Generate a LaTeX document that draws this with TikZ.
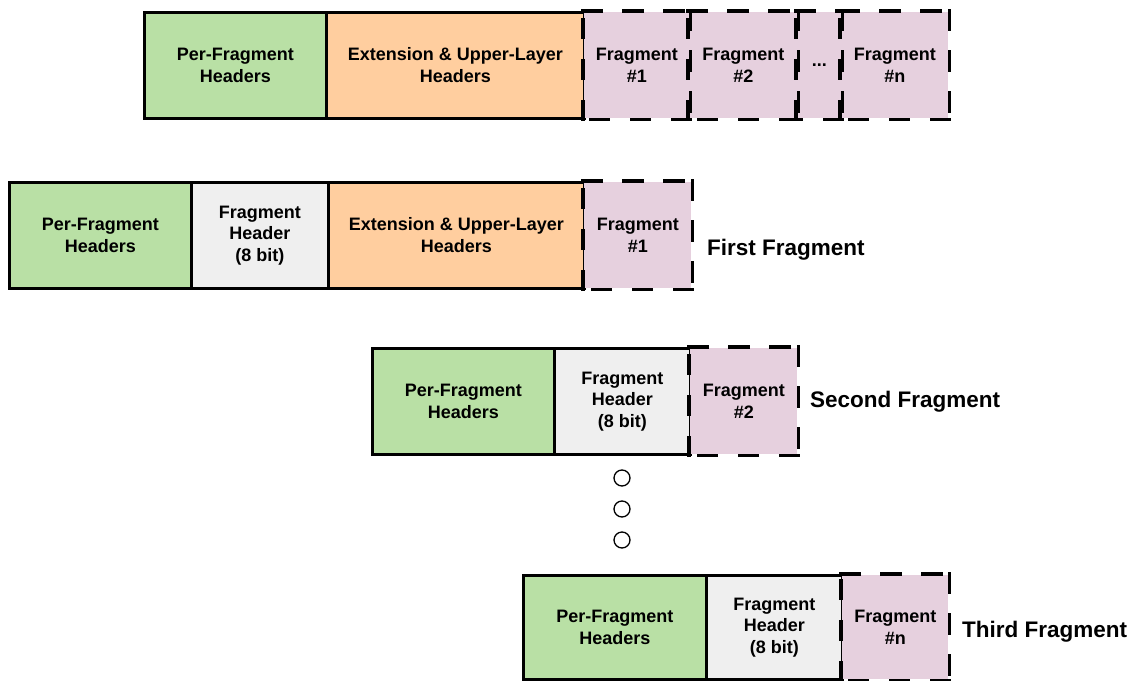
\documentclass[tikz,border=0pt]{standalone}
\usepackage{fontspec}
\setmainfont{Liberation Sans}
\begin{document}
\begin{tikzpicture}[x=1pt,y=-1pt,
  seg/.style={draw=black, line width=2.6pt, inner sep=0pt, anchor=north west,
    align=center, font=\fontsize{18}{21.6}\selectfont\bfseries},
  pfh/.style={seg, fill=pfgreen},
  ext/.style={seg, fill=extorange},
  fh/.style={seg, fill=fhgray},
  frag/.style={seg, fill=fragpink, draw=none},
  dashedge/.style={draw=black, line width=3.2pt, line cap=rect, dash pattern=on 18pt off 23pt},
  lbl/.style={anchor=west, inner sep=0pt, font=\fontsize{22.5}{26}\selectfont\bfseries},
  dot/.style={circle, draw=black, line width=1.3pt, fill=white, minimum size=16pt, inner sep=0pt}
]
\definecolor{pfgreen}{HTML}{B9E0A5}
\definecolor{extorange}{HTML}{FFCE9F}
\definecolor{fhgray}{HTML}{EFEFEF}
\definecolor{fragpink}{HTML}{E6D0DE}
\useasboundingbox (0,0) rectangle (1137,680);

% original packet
\node[pfh, minimum width=182pt, minimum height=106pt] (o1) at (143,11) {Per-Fragment\\Headers};
\node[ext, minimum width=258pt, minimum height=106pt] (o2) at (325,11) {Extension \& Upper-Layer\\Headers};
\node[frag, minimum width=105pt, minimum height=106pt] (o3) at (583,11) {Fragment\\\#1};
\node[frag, minimum width=108pt, minimum height=106pt] (o4) at (688,11) {Fragment\\\#2};
\node[frag, minimum width=44pt, minimum height=106pt] (o5) at (796,11) {...};
\node[frag, minimum width=107pt, minimum height=106pt] (o6) at (840,11) {Fragment\\\#n};

% first fragment
\node[pfh, minimum width=182pt, minimum height=106pt] (a1) at (8,181) {Per-Fragment\\Headers};
\node[fh, minimum width=137pt, minimum height=106pt] (a2) at (190,181) {Fragment\\Header\\(8 bit)};
\node[ext, minimum width=256pt, minimum height=106pt] (a3) at (327,181) {Extension \& Upper-Layer\\Headers};
\node[frag, minimum width=107pt, minimum height=106pt] (a4) at (583,181) {Fragment\\\#1};
\node[lbl] (la) at (707,250) {First Fragment};

% second fragment
\node[pfh, minimum width=182pt, minimum height=106pt] (b1) at (371,347) {Per-Fragment\\Headers};
\node[fh, minimum width=136pt, minimum height=106pt] (b2) at (553,347) {Fragment\\Header\\(8 bit)};
\node[frag, minimum width=107pt, minimum height=106pt] (b3) at (689,347) {Fragment\\\#2};
\node[lbl] (lb) at (810,402) {Second Fragment};

% vertical ellipsis
\node[dot] (d1) at (622,478) {};
\node[dot] (d2) at (622,509) {};
\node[dot] (d3) at (622,540) {};

% last fragment
\node[pfh, minimum width=183pt, minimum height=104pt] (c1) at (522,574) {Per-Fragment\\Headers};
\node[fh, minimum width=136pt, minimum height=104pt] (c2) at (705,574) {Fragment\\Header\\(8 bit)};
\node[frag, minimum width=106pt, minimum height=104pt] (c3) at (841,574) {Fragment\\\#n};
\node[lbl] (lc) at (962,632) {Third Fragment};

% dashed outlines of the fragment payloads, each side starting with a dash at its corner
\foreach \n in {o3,o4,o5,o6,a4,b3,c3} {
  \draw[dashedge] (\n.north west) -- (\n.north east);
  \draw[dashedge] (\n.north east) -- (\n.south east);
  \draw[dashedge] (\n.south east) -- (\n.south west);
  \draw[dashedge] (\n.south west) -- (\n.north west);
}
\end{tikzpicture}
\end{document}
